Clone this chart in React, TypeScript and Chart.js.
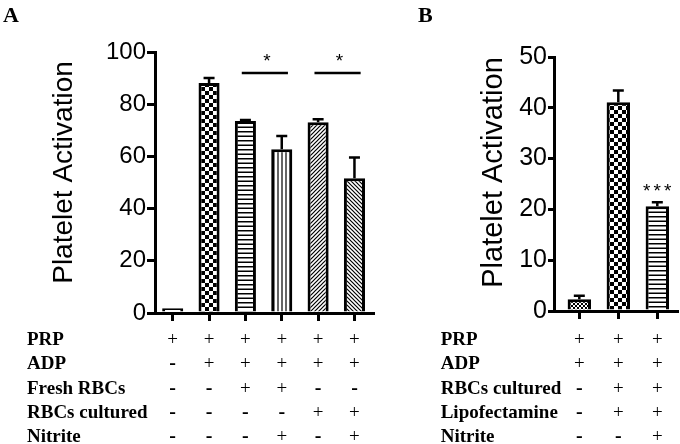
import React, { useEffect, useRef } from "react";
import { Chart, registerables } from "chart.js";

Chart.register(...registerables);

// ---------- Panel A data ----------
const aBars = ["PRP", "PRP+ADP", "Fresh RBCs", "Fresh RBCs+Nitrite", "RBCs cultured", "RBCs cultured+Nitrite"];
const aMeans = [1.8, 88.1, 73.6, 62.7, 73.1, 51.6];
const aSEM = [0, 1.9, 0.3, 5.1, 1.1, 8.0];
const aTickValues = [0, 20, 40, 60, 80, 100];
const aFills = ["plain", "checker", "hlines", "vlines", "diagUp", "diagDown"];
const aRowLabels = ["PRP", "ADP", "Fresh RBCs", "RBCs cultured", "Nitrite"];
const aSigns = [
  ["+", "+", "+", "+", "+", "+"],
  ["-", "+", "+", "+", "+", "+"],
  ["-", "-", "+", "+", "-", "-"],
  ["-", "-", "-", "-", "+", "+"],
  ["-", "-", "-", "+", "-", "+"],
];
const aComparisons = [
  { from: 2, to: 3, level: 92, label: "*" },
  { from: 4, to: 5, level: 92, label: "*" },
];

// ---------- Panel B data ----------
const bBars = ["PRP+ADP", "RBCs cultured+Lipofectamine", "RBCs cultured+Lipofectamine+Nitrite"];
const bMeans = [2.3, 41.1, 20.6];
const bSEM = [0.7, 2.3, 0.8];
const bTickValues = [0, 10, 20, 30, 40, 50];
const bFills = ["fineChecker", "checker", "hlines"];
const bRowLabels = ["PRP", "ADP", "RBCs cultured", "Lipofectamine", "Nitrite"];
const bSigns = [
  ["+", "+", "+"],
  ["+", "+", "+"],
  ["-", "+", "+"],
  ["-", "+", "+"],
  ["-", "-", "+"],
];
const bMarks = [{ bar: 2, label: "***" }];

const SANS = '"Liberation Sans", Arial, sans-serif';
const SERIF = '"Liberation Serif", "Times New Roman", serif';
const H = 444;

type PatInfo = { pat: CanvasPattern | string; kind: string; w: number };

function makePattern(kind: string): PatInfo {
  if (kind === "plain") return { pat: "#ffffff", kind, w: 0 };
  const c = document.createElement("canvas");
  const g = c.getContext("2d")!;
  const tile = (w: number, h: number) => {
    c.width = w;
    c.height = h;
    g.fillStyle = "#fff";
    g.fillRect(0, 0, w, h);
    g.fillStyle = "#000";
    g.strokeStyle = "#000";
  };
  let w = 4;
  if (kind === "checker") {
    tile(8, 8);
    g.fillRect(0, 0, 4, 4);
    g.fillRect(4, 4, 4, 4);
    w = 8;
  } else if (kind === "fineChecker") {
    tile(4, 4);
    g.fillRect(0, 0, 2, 2);
    g.fillRect(2, 2, 2, 2);
    w = 4;
  } else if (kind === "hlines") {
    tile(8, 9);
    g.fillRect(0, 1, 8, 1.5);
    g.fillRect(0, 5.5, 8, 1.5);
    w = 8;
  } else if (kind === "vlines") {
    tile(4, 8);
    g.fillRect(1.4, 0, 1.2, 8);
    w = 4;
  } else if (kind === "diagUp" || kind === "diagDown") {
    tile(4, 4);
    g.lineWidth = 1.2;
    g.beginPath();
    if (kind === "diagUp") {
      g.moveTo(-2, 6); g.lineTo(6, -2);
      g.moveTo(-4, 4); g.lineTo(4, -4);
      g.moveTo(0, 8); g.lineTo(8, 0);
    } else {
      g.moveTo(-2, -2); g.lineTo(6, 6);
      g.moveTo(-4, 0); g.lineTo(4, 8);
      g.moveTo(0, -4); g.lineTo(8, 4);
    }
    g.stroke();
    w = 4;
  }
  return { pat: g.createPattern(c, "repeat")!, kind, w };
}

type Spec = {
  letter: string;
  canvasLeft: number;
  width: number;
  areaLeft: number;
  areaRight: number;
  areaTop: number;
  areaBottom: number;
  xMin: number;
  xMax: number;
  yMax: number;
  barPct: number;
  tickSize: number;
  tickLength: number;
  tickPad: number;
  titleX: number;
  titleY: number;
  titleSize: number;
  letterX: number;
  labelX: number;
  rowBaselines: number[];
  categories: string[];
  means: number[];
  sem: number[];
  ticks: number[];
  fills: string[];
  rowLabels: string[];
  signs: string[][];
  comparisons: { from: number; to: number; level: number; label: string }[];
  marks: { bar: number; label: string }[];
};

function drawStars(ctx: CanvasRenderingContext2D, label: string, cx: number, cy: number) {
  ctx.font = `19px ${SANS}`;
  ctx.textAlign = "center";
  ctx.textBaseline = "alphabetic";
  const n = label.length;
  const gap = 10.5;
  for (let i = 0; i < n; i++) {
    const x = cx + (i - (n - 1) / 2) * gap;
    ctx.fillText("*", x, cy + 11);
  }
}

function buildChart(canvas: HTMLCanvasElement, s: Spec) {
  const pats = s.fills.map(makePattern);
  const panelPlugin = {
    id: "panelExtras" + s.letter,
    beforeDatasetsDraw(chart: any) {
      const meta = chart.getDatasetMeta(0);
      meta.data.forEach((bar: any, i: number) => {
        const p = pats[i];
        if (typeof p.pat === "string") return;
        const tx = p.kind === "vlines" ? Math.round(bar.x) - 2 : Math.round(bar.x) - p.w / 2;
        const ty = Math.round(bar.y);
        (p.pat as CanvasPattern).setTransform(new DOMMatrix([1, 0, 0, 1, tx, ty]));
      });
    },
    afterDraw(chart: any) {
      const ctx: CanvasRenderingContext2D = chart.ctx;
      const xs = chart.scales.x;
      const ys = chart.scales.y;
      const meta = chart.getDatasetMeta(0);
      ctx.save();
      ctx.fillStyle = "#000";
      ctx.strokeStyle = "#000";

      // error bars
      ctx.lineWidth = 2.5;
      meta.data.forEach((bar: any, i: number) => {
        const e = s.sem[i];
        if (!e) return;
        const yb = ys.getPixelForValue(s.means[i]);
        const yt = ys.getPixelForValue(s.means[i] + e);
        ctx.beginPath();
        ctx.moveTo(bar.x, yb);
        ctx.lineTo(bar.x, yt);
        ctx.moveTo(bar.x - 5.5, yt);
        ctx.lineTo(bar.x + 5.5, yt);
        ctx.stroke();
      });

      // significance brackets
      s.comparisons.forEach((c) => {
        const x1 = xs.getPixelForValue(c.from - 0.1);
        const x2 = xs.getPixelForValue(c.to + 0.17);
        const y = ys.getPixelForValue(c.level);
        ctx.lineWidth = 2.5;
        ctx.beginPath();
        ctx.moveTo(x1, y);
        ctx.lineTo(x2, y);
        ctx.stroke();
        drawStars(ctx, c.label, (x1 + x2) / 2 + 2, y - 17);
      });
      s.marks.forEach((m) => {
        const x = xs.getPixelForValue(m.bar);
        const y = ys.getPixelForValue(s.means[m.bar] + s.sem[m.bar]);
        drawStars(ctx, m.label, x, y - 16.5);
      });

      // y title
      ctx.save();
      ctx.translate(s.titleX, s.titleY);
      ctx.rotate(-Math.PI / 2);
      ctx.font = `${s.titleSize}px ${SANS}`;
      ctx.textAlign = "center";
      ctx.textBaseline = "alphabetic";
      ctx.fillText("Platelet Activation", 0, 0);
      ctx.restore();

      // panel letter
      ctx.font = `bold 22px ${SERIF}`;
      ctx.textAlign = "left";
      ctx.textBaseline = "alphabetic";
      ctx.fillText(s.letter, s.letterX, 22);

      // condition table
      s.rowLabels.forEach((label, r) => {
        const by = s.rowBaselines[r];
        ctx.font = `bold 19px ${SERIF}`;
        ctx.textAlign = "left";
        ctx.fillText(label, s.labelX, by);
        s.signs[r].forEach((sg, i) => {
          const x = xs.getPixelForValue(i);
          ctx.font = sg === "+" ? `19px ${SERIF}` : `bold 20px ${SERIF}`;
          ctx.textAlign = "center";
          ctx.fillText(sg, x, by);
        });
      });
      ctx.restore();
    },
  };

  const black = "#000";
  return new Chart(canvas, {
    type: "bar",
    data: {
      labels: s.categories,
      datasets: [
        {
          data: s.means.map((v, i) => ({ x: i, y: v })) as any,
          backgroundColor: pats.map((p) => p.pat) as any,
          borderColor: black,
          borderWidth: 3,
          borderSkipped: "start",
          barPercentage: s.barPct,
          categoryPercentage: 1,
        },
      ],
    },
    options: {
      responsive: false,
      animation: false,
      devicePixelRatio: 1,
      layout: { padding: { left: 0, top: s.areaTop, right: s.width - s.areaRight, bottom: 0 } },
      plugins: { legend: { display: false }, tooltip: { enabled: false } },
      scales: {
        x: {
          type: "linear",
          offset: false,
          min: s.xMin,
          max: s.xMax,
          afterBuildTicks: (sc: any) => {
            sc.ticks = s.means.map((_, i) => ({ value: i }));
          },
          afterFit: (sc: any) => {
            sc.height = H - s.areaBottom;
          },
          ticks: { display: false },
          grid: { offset: false, drawOnChartArea: false, drawTicks: true, tickLength: 8, lineWidth: 3, color: black },
          border: { color: black, width: 3 },
        },
        y: {
          min: 0,
          max: s.yMax,
          afterBuildTicks: (sc: any) => {
            sc.ticks = s.ticks.map((v) => ({ value: v }));
          },
          afterFit: (sc: any) => {
            sc.width = s.areaLeft;
          },
          ticks: { color: black, font: { family: SANS, size: s.tickSize }, padding: s.tickPad },
          grid: { drawOnChartArea: false, drawTicks: true, tickLength: s.tickLength, lineWidth: 3, color: black },
          border: { color: black, width: 3 },
        },
      },
    } as any,
    plugins: [panelPlugin],
  });
}

const rowBaselines = [345, 369.3, 393.5, 417.7, 442];

const specA: Spec = {
  letter: "A",
  canvasLeft: 0,
  width: 400,
  areaLeft: 155,
  areaRight: 373,
  areaTop: 52,
  areaBottom: 313,
  xMin: -0.487,
  xMax: 5.51,
  yMax: 100,
  barPct: 0.58,
  tickSize: 24,
  tickLength: 8,
  tickPad: 1,
  titleX: 72,
  titleY: 172.5,
  titleSize: 28,
  letterX: 3,
  labelX: 27,
  rowBaselines,
  categories: aBars,
  means: aMeans,
  sem: aSEM,
  ticks: aTickValues,
  fills: aFills,
  rowLabels: aRowLabels,
  signs: aSigns,
  comparisons: aComparisons,
  marks: [],
};

const specB: Spec = {
  letter: "B",
  canvasLeft: 400,
  width: 280,
  areaLeft: 154,
  areaRight: 277,
  areaTop: 57,
  areaBottom: 311,
  xMin: -0.649,
  xMax: 2.505,
  yMax: 50,
  barPct: 0.6,
  tickSize: 25,
  tickLength: 6,
  tickPad: 1,
  titleX: 101.7,
  titleY: 172.5,
  titleSize: 29,
  letterX: 18,
  labelX: 40.7,
  rowBaselines,
  categories: bBars,
  means: bMeans,
  sem: bSEM,
  ticks: bTickValues,
  fills: bFills,
  rowLabels: bRowLabels,
  signs: bSigns,
  comparisons: [],
  marks: bMarks,
};

function Panel({ spec }: { spec: Spec }) {
  const ref = useRef<HTMLCanvasElement>(null);
  useEffect(() => {
    const chart = buildChart(ref.current!, spec);
    return () => chart.destroy();
  }, [spec]);
  return (
    <canvas
      ref={ref}
      width={spec.width}
      height={H}
      style={{ position: "absolute", left: spec.canvasLeft, top: 0, width: spec.width, height: H }}
    />
  );
}

export default function App() {
  return (
    <div style={{ position: "absolute", left: 0, top: 0, width: 680, height: H, background: "#fff" }}>
      <Panel spec={specA} />
      <Panel spec={specB} />
    </div>
  );
}
